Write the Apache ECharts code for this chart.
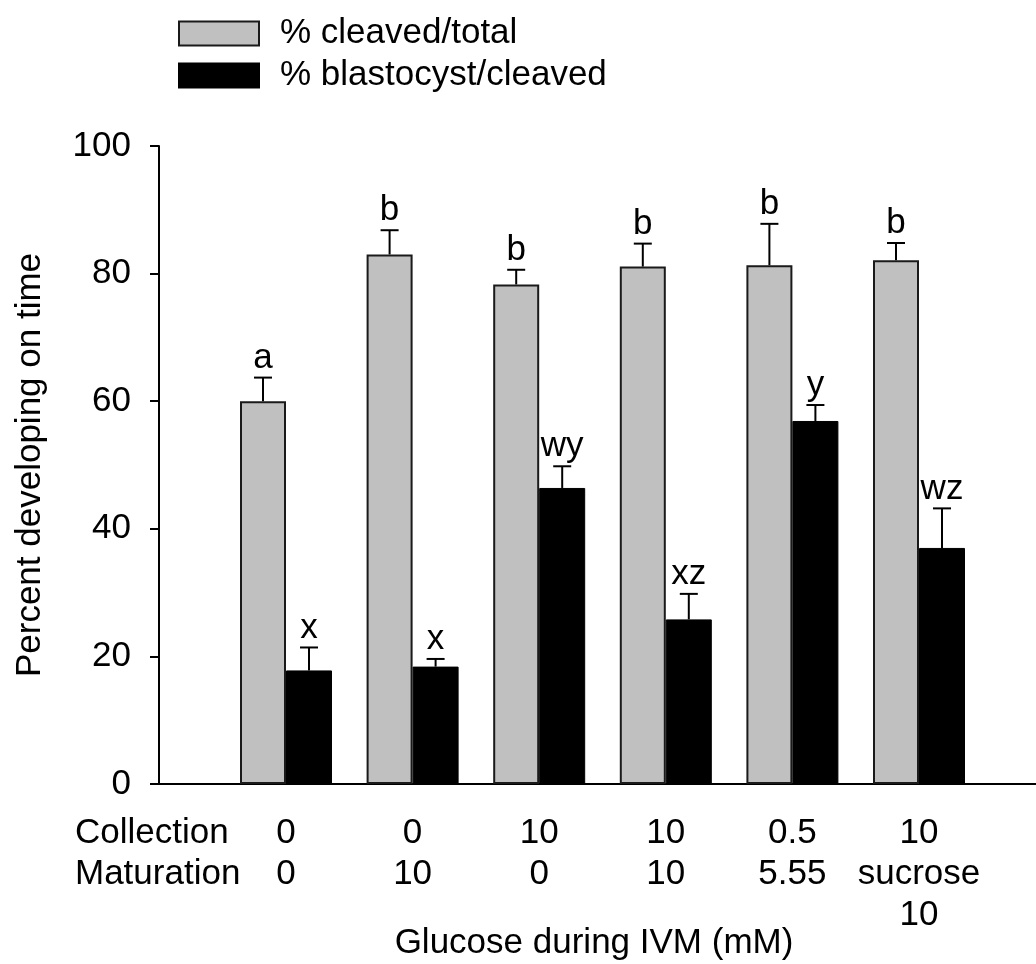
<!DOCTYPE html>
<html>
<head>
<meta charset="utf-8">
<script src="https://cdn.jsdelivr.net/npm/echarts@6/dist/echarts.min.js"></script>
<style>html,body{margin:0;padding:0;background:#fff;}#c{width:1036px;height:964px;}</style>
</head>
<body>
<div id="c"></div>
<script>
// ---- data ----
const collection = ['0', '0', '10', '10', '0.5', '10'];
const maturation = ['0', '10', '0', '10', '5.55', 'sucrose\n10'];
const cleaved = [60.0, 83.0, 78.3, 81.1, 81.3, 82.1];
const cleavedErr = [3.7, 3.8, 2.3, 3.6, 6.5, 2.7];
const cleavedLetters = ['a', 'b', 'b', 'b', 'b', 'b'];
const blast = [17.8, 18.4, 46.4, 25.8, 56.9, 37.0];
const blastErr = [3.6, 1.2, 3.4, 4.0, 2.5, 6.2];
const blastLetters = ['x', 'x', 'wy', 'xz', 'y', 'wz'];
const yTicks = [0, 20, 40, 60, 80, 100];
const seriesNames = ['% cleaved/total', '% blastocyst/cleaved'];

const FONT = '"Liberation Sans", Arial, sans-serif';
const FS = 35;
const BAR_W = 46;

const categories = collection.map((c, i) => c + '\n' + maturation[i]);

function errRender(letters, dir) {
  return function (params, api) {
    const v = api.value(1), e = api.value(2), idx = api.value(0);
    const base = api.coord([idx, v]);
    const top = api.coord([idx, v + e]);
    const x = base[0] + dir * BAR_W / 2;
    return {
      type: 'group',
      children: [
        { type: 'line', shape: { x1: x, y1: base[1], x2: x, y2: top[1] }, style: { stroke: '#000', lineWidth: 2 } },
        { type: 'line', shape: { x1: x - 9, y1: top[1], x2: x + 9, y2: top[1] }, style: { stroke: '#000', lineWidth: 2 } },
        { type: 'text', x: x, y: top[1] - 2,
          style: { text: letters[params.dataIndex], fill: '#000', fontSize: FS, fontFamily: FONT, align: 'center', verticalAlign: 'bottom' } }
      ]
    };
  };
}

const chart = echarts.init(document.getElementById('c'), null, { renderer: 'canvas' });
chart.setOption({
  animation: false,
  backgroundColor: '#fff',
  textStyle: { fontFamily: FONT, color: '#000' },
  title: [{
    text: 'Collection\nMaturation',
    left: 75, top: 813,
    padding: 0,
    textStyle: { fontSize: FS, fontWeight: 'normal', fontFamily: FONT, color: '#000', lineHeight: 41 }
  }],
  legend: {
    data: seriesNames,
    orient: 'vertical',
    left: 178, top: 16,
    padding: 0,
    itemWidth: 80, itemHeight: 24, itemGap: 7,
    icon: 'rect',
    selectedMode: false,
    textStyle: { fontSize: FS, fontFamily: FONT, color: '#000', padding: [0, 0, 0, 16] }
  },
  grid: [
    { left: 159, right: 0, top: 146, bottom: 180, containLabel: false, outerBoundsMode: 'none' },
    { left: 222.7, right: 53.7, top: 146, bottom: 180, containLabel: false, outerBoundsMode: 'none' }
  ],
  xAxis: [
    { type: 'value', gridIndex: 0, min: 0, max: 1,
      axisLine: { show: true, lineStyle: { color: '#000', width: 2 } },
      axisTick: { show: false }, axisLabel: { show: false }, splitLine: { show: false } },
    { type: 'category', gridIndex: 1, data: categories,
      axisLine: { show: false }, axisTick: { show: false }, splitLine: { show: false },
      axisLabel: { margin: 29, fontSize: FS, fontFamily: FONT, color: '#000', lineHeight: 41, interval: 0 },
      name: 'Glucose during IVM (mM)', nameLocation: 'middle', nameGap: 142, nameMoveOverlap: false,
      nameTextStyle: { fontSize: FS, fontFamily: FONT, color: '#000', padding: [0, 17, 0, 0] } }
  ],
  yAxis: [
    { type: 'value', gridIndex: 0, min: 0, max: 100, interval: 20,
      axisLine: { show: true, lineStyle: { color: '#000', width: 2 } },
      axisTick: { show: true, length: 9, lineStyle: { color: '#000', width: 2 } },
      axisLabel: { margin: 28, fontSize: FS, fontFamily: FONT, color: '#000',
        formatter: v => (yTicks.indexOf(v) >= 0 ? String(v) : '') },
      splitLine: { show: false },
      name: 'Percent developing on time', nameLocation: 'middle', nameGap: 111,
      nameTextStyle: { fontSize: FS, fontFamily: FONT, color: '#000' } },
    { type: 'value', gridIndex: 1, min: 0, max: 100, interval: 20, show: false }
  ],
  series: [
    { name: seriesNames[0], type: 'bar', xAxisIndex: 1, yAxisIndex: 1, data: cleaved,
      barWidth: BAR_W, barGap: '0%',
      itemStyle: { color: '#c0c0c0', borderColor: '#1a1a1a', borderWidth: 2 } },
    { name: seriesNames[1], type: 'bar', xAxisIndex: 1, yAxisIndex: 1, data: blast,
      barWidth: BAR_W, barGap: '0%',
      itemStyle: { color: '#000', borderColor: '#000', borderWidth: 1 } },
    { type: 'custom', xAxisIndex: 1, yAxisIndex: 1, z: 5,
      renderItem: errRender(cleavedLetters, -1),
      data: cleaved.map((v, i) => [i, v, cleavedErr[i]]) },
    { type: 'custom', xAxisIndex: 1, yAxisIndex: 1, z: 5,
      renderItem: errRender(blastLetters, 1),
      data: blast.map((v, i) => [i, v, blastErr[i]]) }
  ]
});
</script>
</body>
</html>
